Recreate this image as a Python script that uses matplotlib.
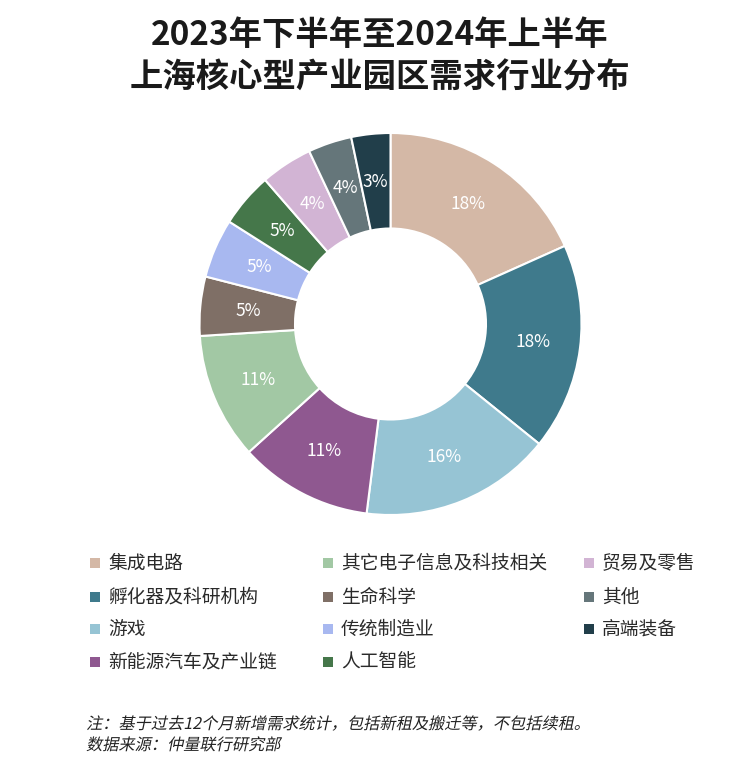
import matplotlib
matplotlib.use("Agg")
import matplotlib.pyplot as plt
from matplotlib.patches import Rectangle, PathPatch
from matplotlib.textpath import TextPath
from matplotlib.font_manager import FontProperties
from matplotlib.transforms import Affine2D, IdentityTransform

plt.rcParams['font.family'] = ['Noto Sans CJK SC', 'DejaVu Sans']

# 数据（顺时针，从12点方向开始）
categories = ['集成电路', '孵化器及科研机构', '游戏', '新能源汽车及产业链',
              '其它电子信息及科技相关', '生命科学', '传统制造业', '人工智能',
              '贸易及零售', '其他', '高端装备']
shares = [18.3, 17.5, 16.2, 11.3, 10.7, 5.0, 5.0, 4.6, 4.4, 3.7, 3.3]
colors = ['#d4b8a6', '#3f7a8c', '#96c4d4', '#8f5890', '#a2c8a4', '#7f6f66',
          '#a8b8f0', '#45774a', '#d2b4d4', '#65767a', '#213e4a']

title = '2023年下半年至2024年上半年\n上海核心型产业园区需求行业分布'
note = '注：基于过去12个月新增需求统计，包括新租及搬迁等，不包括续租。'
source = '数据来源：仲量联行研究部'

W, H = 744, 774
fig = plt.figure(figsize=(W / 100, H / 100), dpi=100)
fig.patch.set_facecolor('white')

# 标题
fig.text(380 / W, 1 - 57 / H, title, ha='center', va='center', fontsize=24,
         fontweight='bold', color='#1a1a1a', linespacing=1.35)

# 环形图
cx, cy, r = 390.5, 324, 191
ax = fig.add_axes([(cx - r) / W, (H - cy - r) / H, 2 * r / W, 2 * r / H])
wedges, texts, autotexts = ax.pie(
    shares, colors=colors, startangle=90, counterclock=False,
    radius=1, pctdistance=0.75, autopct=lambda p: f'{p:.0f}%',
    wedgeprops=dict(width=0.5, edgecolor='white', linewidth=1.5),
    textprops=dict(color='white', fontsize=12.5, fontweight='medium'))
ax.set_xlim(-1, 1)
ax.set_ylim(-1, 1)
ax.set_aspect('equal')
ax.axis('off')

# 图例（手动排布，3列，按列填充）
col_x = [90, 323, 584]
row_y = [563, 597, 629, 662]
sq = 10
for i, (name, c) in enumerate(zip(categories, colors)):
    col, row = i // 4, i % 4
    x, y = col_x[col], row_y[row]
    fig.patches.append(Rectangle((x / W, (H - y - sq / 2) / H), sq / W, sq / H,
                                 transform=fig.transFigure, facecolor=c,
                                 edgecolor='none'))
    fig.text((x + 18) / W, 1 - y / H, name, ha='left', va='center',
             fontsize=13.5, fontweight='medium', color='#2a2a2a')

# 注释（斜体效果）
fp = FontProperties(family='Noto Sans CJK SC', weight='medium')
for txt, base_y in [(note, 729), (source, 750)]:
    tp = TextPath((0, 0), txt, prop=fp, size=16.2)
    tr = Affine2D().skew_deg(12, 0).translate(86, H - base_y)
    fig.patches.append(PathPatch(tr.transform_path(tp), transform=IdentityTransform(),
                                 facecolor='#222222', edgecolor='none'))

fig.savefig('out.png', dpi=100, facecolor='white')
